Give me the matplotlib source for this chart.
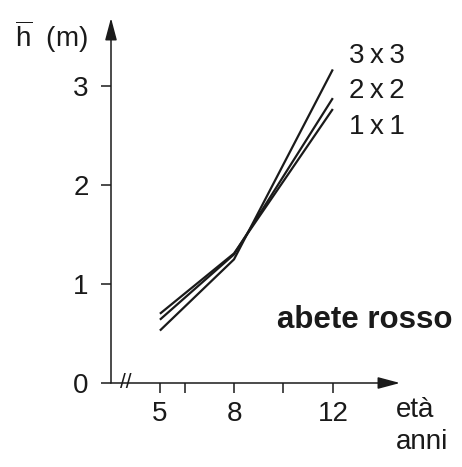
import matplotlib
matplotlib.use('Agg')
import matplotlib.pyplot as plt

plt.rcParams['font.family'] = ['Liberation Sans', 'DejaVu Sans']
plt.rcParams['mathtext.fontset'] = 'custom'
plt.rcParams['mathtext.rm'] = 'Liberation Sans'

# average height (m) of Norway spruce by spacing
ages = [5, 8, 12]
h_1x1 = [0.70, 1.31, 2.77]
h_2x2 = [0.64, 1.30, 2.88]
h_3x3 = [0.53, 1.25, 3.17]
series = [('1\u2009x\u20091', h_1x1, -13), ('2\u2009x\u20092', h_2x2, 5), ('3\u2009x\u20093', h_3x3, 10)]

x_ticks = [5, 6, 8, 10, 12]
x_labels = ['5', '', '8', '', '12']
y_ticks = [0, 1, 2, 3]

ink = '#1a1a1a'
fig = plt.figure(figsize=(4.62, 4.67), dpi=100)
ax = fig.add_axes([111 / 462, 84 / 467, 289 / 462, 365 / 467])
ax.set_xlim(3.02, 14.72)
ax.set_ylim(0, 3.69)

for name, vals, dy in series:
    ax.plot(ages, vals, color=ink, lw=1.6, solid_capstyle='butt')
    ax.annotate(name, xy=(ages[-1], vals[-1]), xytext=(12, dy), textcoords='offset points',
                ha='left', va='center', fontsize=20, color=ink)

for s in ax.spines.values():
    s.set_visible(False)

# axes with arrow heads
arrow = dict(arrowstyle='-|>,head_length=0.45,head_width=0.12', color=ink, lw=1.1,
             mutation_scale=30, shrinkA=0, shrinkB=0)
ax.annotate('', xy=(1, 0), xytext=(0, 0), xycoords='axes fraction', arrowprops=arrow)
ax.annotate('', xy=(0, 1), xytext=(0, 0), xycoords='axes fraction', arrowprops=arrow)
ax.text(3.63, 0, '//', ha='center', va='center', fontsize=15, color=ink)

ax.set_xticks(x_ticks, x_labels)
ax.set_yticks(y_ticks)
ax.tick_params(axis='both', direction='out', length=7, width=1.1, color=ink,
               labelsize=20, labelcolor=ink)
ax.tick_params(axis='x', pad=6)
ax.tick_params(axis='y', pad=9)

fig.text(15 / 462, 1 - 37 / 467, r'$\overline{\mathrm{h}}$  (m)', ha='left', va='center',
         fontsize=20, color=ink)
fig.text(396 / 462, 1 - 397 / 467, 'età\nanni', ha='left', va='top', fontsize=20,
         color=ink, linespacing=1.3)
fig.text(277 / 462, 1 - 320 / 467, 'abete rosso', ha='left', va='center', fontsize=22.5,
         fontweight='bold', color=ink)

fig.savefig('out.png', dpi=100, facecolor='white')
